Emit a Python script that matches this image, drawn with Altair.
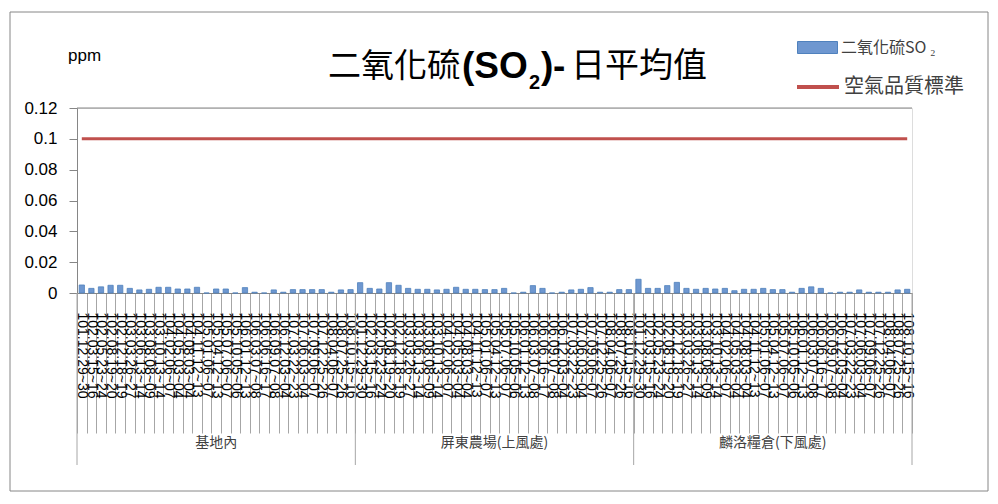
import altair as alt
import pandas as pd

# ---------------- data ----------------
groups = ["基地內", "屏東農場(上風處)", "麟洛糧倉(下風處)"]
dates = [
    "101.12.29~30", "102.03.15~16", "102.05.23~24", "102.08.19~20", "102.12.18~19",
    "103.03.26~27", "103.06.13~14", "103.08.08~09", "103.10.13~14", "104.02.06~07",
    "104.05.03~04", "104.08.03~04", "104.11.12~13", "105.01.06~07", "105.04.12~13",
    "105.07.06~07", "105.10.05~06", "106.01.12~13", "106.03.07~08", "106.06.16~17",
    "106.09.07~08", "106.12.03~04", "107.03.22~23", "107.06.03~04", "107.09.06~07",
    "107.12.25~26", "108.04.06~07", "108.07.25~26", "108.10.15~16",
]
so2_base = [0.0052, 0.003, 0.004, 0.005, 0.005, 0.003, 0.002, 0.0024, 0.0037, 0.0037,
            0.0026, 0.0026, 0.0037, 0.0, 0.0026, 0.0026, 0.0, 0.0035, 0.0005, 0.0,
            0.002, 0.0005, 0.0022, 0.0022, 0.0022, 0.0022, 0.0005, 0.002, 0.0022]
so2_up = [0.0067, 0.003, 0.0026, 0.0067, 0.005, 0.003, 0.0024, 0.0024, 0.002, 0.0024,
          0.0037, 0.0024, 0.0024, 0.0022, 0.0022, 0.003, 0.0, 0.0005, 0.0048, 0.003,
          0.0, 0.0005, 0.002, 0.0024, 0.0035, 0.0005, 0.0005, 0.0022, 0.0022]
so2_down = [0.0089, 0.003, 0.003, 0.0048, 0.0069, 0.003, 0.0024, 0.003, 0.0026, 0.003,
            0.0015, 0.0024, 0.0024, 0.003, 0.0022, 0.0022, 0.0005, 0.003, 0.004, 0.003,
            0.0, 0.0005, 0.0005, 0.002, 0.0005, 0.0005, 0.0005, 0.002, 0.0024]
standard_value = 0.1
y_ticks = [0, 0.02, 0.04, 0.06, 0.08, 0.1, 0.12]
series_so2 = "二氧化硫SO ₂"
series_std = "空氣品質標準"
title_parts = ["二氧化硫", "(SO", "2", ")", "-", "日平均值"]

rows = []
for g, vals in zip(groups, [so2_base, so2_up, so2_down]):
    for d, v in zip(dates, vals):
        rows.append({"group": g, "date": d, "key": f"{g}|{d}", "so2": v,
                     "std": standard_value, "s1": series_so2, "s2": series_std})
df = pd.DataFrame(rows)
keys = list(df["key"])

n = len(dates)
grp_df = pd.DataFrame({
    "group": groups,
    "key": [f"{g}|{dates[n // 2]}" for g in groups],
})
first_df = pd.DataFrame({"key": [f"{g}|{dates[0]}" for g in groups]})
last_df = pd.DataFrame({"key": [f"{groups[-1]}|{dates[-1]}"]})
one = pd.DataFrame({"a": [0]})

# ---------------- layout ----------------
W, H = 835, 185
CJK = "Noto Sans CJK TC"
LAT = "Liberation Sans"
GRAY = "#868686"

xscale = alt.Scale(domain=keys, paddingInner=0, paddingOuter=0)
x_axis = alt.Axis(
    title=None, labelAngle=90, labelAlign="left", labelBaseline="middle",
    labelExpr="split(datum.value, '|')[1]", labelFont=LAT, labelFontSize=14,
    labelColor="#000000", labelPadding=-121, labelOverlap=False,
    tickBand="extent", tickSize=140, tickColor="#A6A6A6", domainColor=GRAY,
)


def xenc(**kw):
    return alt.X("key:N", scale=xscale, axis=x_axis, title=None, **kw)


y_axis = alt.Axis(
    values=y_ticks, labelExpr="format(datum.value, '~g')", title="ppm",
    titleAngle=0, titleX=7, titleY=-53,
    titleAlign="center", titleBaseline="middle", titleFont=LAT, titleFontSize=17,
    titleFontWeight="normal", titleColor="#000000", labelFont=LAT, labelFontSize=17,
    labelColor="#000000", tickSize=8, tickColor=GRAY, domainColor=GRAY,
    labelPadding=12, labelOverlap=False, grid=False,
)
yscale = alt.Scale(domain=[0, 0.12])

frame = alt.Chart(one).mark_rect(fill="transparent", stroke=GRAY, strokeWidth=1).encode(
    x=alt.value(-67), x2=alt.value(911), y=alt.value(-96), y2=alt.value(383)
)

bars = alt.Chart(df).mark_bar(
    width=alt.RelativeBandSize(0.55), stroke="#4F81BD", strokeWidth=0.8
).encode(
    x=xenc(),
    y=alt.Y("so2:Q", scale=yscale, axis=y_axis),
    fill=alt.Fill(
        "s1:N", scale=alt.Scale(domain=[series_so2], range=["#6E97D0"]),
        legend=alt.Legend(
            title=None, orient="none", legendX=720, legendY=-81, padding=0,
            symbolType="M-1,-0.3H1V0.3H-1Z", symbolSize=1600,
            symbolStrokeColor="#4F81BD", symbolStrokeWidth=1, symbolOpacity=1,
            labelFont=CJK, labelFontSize=16, labelColor="#404040", labelOffset=3,
        ),
    ),
)

topline = alt.Chart(one).mark_rule(color=GRAY, strokeWidth=1).encode(
    y=alt.value(0), x=alt.value(0), x2=alt.value(W)
)

line = alt.Chart(df).mark_line(strokeWidth=3).encode(
    x=xenc(),
    y=alt.Y("std:Q", scale=yscale, axis=y_axis),
    stroke=alt.Stroke(
        "s2:N", scale=alt.Scale(domain=[series_std], range=["#C0504D"]),
        legend=alt.Legend(
            title=None, orient="none", legendX=718, legendY=-44, padding=0,
            symbolType="stroke", symbolSize=1764, symbolStrokeWidth=4,
            labelFont=CJK, labelFontSize=20, labelColor="#404040", labelOffset=3,
        ),
    ),
)

sep_first = alt.Chart(first_df).mark_rule(color="#A6A6A6", strokeWidth=1).encode(
    x=xenc(bandPosition=0), y=alt.value(H), y2=alt.value(H + 172)
)
sep_last = alt.Chart(last_df).mark_rule(color="#A6A6A6", strokeWidth=1).encode(
    x=xenc(bandPosition=1), y=alt.value(H), y2=alt.value(H + 172)
)

grp_text = alt.Chart(grp_df).mark_text(
    font=CJK, fontSize=14, color="#404040", baseline="middle"
).encode(x=xenc(), y=alt.value(H + 150), text="group:N")


def title_piece(i, x, y, size, font, weight):
    return alt.Chart(pd.DataFrame({"t": [title_parts[i]]})).mark_text(
        font=font, fontSize=size, fontWeight=weight, align="left",
        baseline="middle", color="#000000",
    ).encode(x=alt.value(x), y=alt.value(y), text="t:N")


title_layers = [
    title_piece(0, 251, -41, 33, CJK, "normal"),
    title_piece(1, 385, -41, 37, LAT, "bold"),
    title_piece(2, 452, -25, 20, LAT, "bold"),
    title_piece(3, 464, -41, 37, LAT, "bold"),
    title_piece(4, 476, -41, 37, LAT, "bold"),
    title_piece(5, 494, -41, 34, CJK, "normal"),
]

chart = alt.layer(
    bars, frame, topline, line, sep_first, sep_last, grp_text, *title_layers
).resolve_scale(fill="independent", stroke="independent").properties(
    width=W, height=H,
    padding={"left": 69, "top": 100, "right": 78, "bottom": 203},
    autosize=alt.AutoSizeParams(type="none"),
).configure_view(stroke=None).configure(background="#FFFFFF").configure_axisY(
    labelOverlap=False
)

chart.save("out.html", embed_options={"renderer": "svg", "actions": False})
